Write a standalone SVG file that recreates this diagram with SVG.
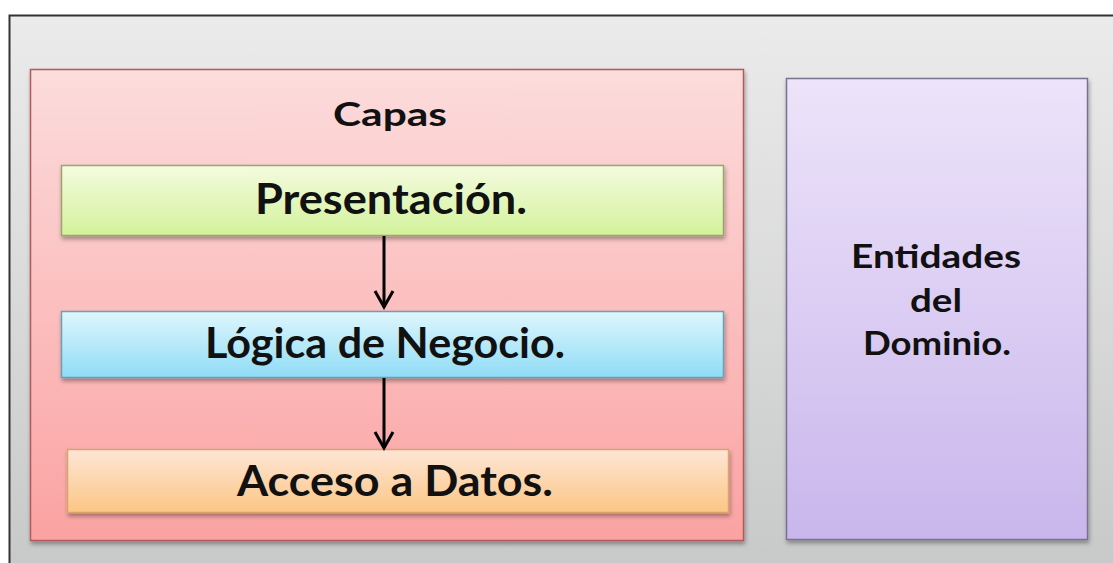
<svg xmlns="http://www.w3.org/2000/svg" width="1113" height="563" viewBox="0 0 1113 563">
<defs>
<linearGradient id="bg" x1="0" y1="0" x2="0" y2="1"><stop offset="0" stop-color="#ebebeb"/><stop offset="1" stop-color="#c7c9c8"/></linearGradient>
<linearGradient id="red" x1="0" y1="0" x2="0" y2="1"><stop offset="0" stop-color="#fcdcdc"/><stop offset="1" stop-color="#fba2a2"/></linearGradient>
<linearGradient id="green" x1="0" y1="0" x2="0" y2="1"><stop offset="0" stop-color="#f4fbe0"/><stop offset="1" stop-color="#d3f29b"/></linearGradient>
<linearGradient id="blue" x1="0" y1="0" x2="0" y2="1"><stop offset="0" stop-color="#dff6fd"/><stop offset="1" stop-color="#8fdcf6"/></linearGradient>
<linearGradient id="orange" x1="0" y1="0" x2="0" y2="1"><stop offset="0" stop-color="#fde6d6"/><stop offset="1" stop-color="#fcc684"/></linearGradient>
<linearGradient id="purple" x1="0" y1="0" x2="0" y2="1"><stop offset="0" stop-color="#ede4fa"/><stop offset="1" stop-color="#c9b6ec"/></linearGradient>
<filter id="sh" x="-5%" y="-5%" width="110%" height="120%"><feDropShadow dx="1" dy="3" stdDeviation="2" flood-color="#000" flood-opacity="0.35"/></filter>
<marker id="ah" viewBox="0 0 22 22" refX="19" refY="11" markerWidth="22" markerHeight="22" markerUnits="userSpaceOnUse" orient="auto"><path d="M3,2 L19,11 L3,20" fill="none" stroke="#000" stroke-width="3"/></marker>
<style>
text{font-family:Lato,"Liberation Sans",sans-serif;font-weight:bold;fill:#111;text-anchor:middle}
.big{font-size:42px}
.sm{font-size:33px}
.conn{stroke:#000;stroke-width:3;fill:none}
</style>
</defs>
<rect x="0" y="0" width="1113" height="563" fill="#fff"/>
<g id="frame"><rect x="9.5" y="15.5" width="1110" height="560" fill="url(#bg)" stroke="#333" stroke-width="2"/></g>
<g id="capas"><rect x="30.5" y="69.5" width="713" height="471" fill="url(#red)" stroke="#b5595a" stroke-width="1.5" filter="url(#sh)"/><text class="sm" x="390" y="126" textLength="114" lengthAdjust="spacingAndGlyphs">Capas</text></g>
<g id="presentacion"><rect x="61.5" y="165.5" width="662" height="70" fill="url(#green)" stroke="#9aa56a" stroke-width="1.5" filter="url(#sh)"/><text class="big" x="391" y="214" textLength="272" lengthAdjust="spacingAndGlyphs">Presentación.</text></g>
<g id="logica"><rect x="61.5" y="311.5" width="662" height="66" fill="url(#blue)" stroke="#6a9fb5" stroke-width="1.5" filter="url(#sh)"/><text class="big" x="385" y="358" textLength="360" lengthAdjust="spacingAndGlyphs">Lógica de Negocio.</text></g>
<g id="acceso"><rect x="67.5" y="449.5" width="661" height="63" fill="url(#orange)" stroke="#d9a46a" stroke-width="1.5" filter="url(#sh)"/><text class="big" x="395" y="496" textLength="316" lengthAdjust="spacingAndGlyphs">Acceso a Datos.</text></g>
<g id="entidades"><rect x="786.5" y="78.5" width="301" height="461" fill="url(#purple)" stroke="#7a7090" stroke-width="1.5" filter="url(#sh)"/><text class="sm" x="936" y="268" textLength="170" lengthAdjust="spacingAndGlyphs">Entidades</text><text class="sm" x="936" y="312" textLength="52" lengthAdjust="spacingAndGlyphs">del</text><text class="sm" x="937" y="355" textLength="148" lengthAdjust="spacingAndGlyphs">Dominio.</text></g>
<g id="connectors">
<line class="conn" x1="384" y1="236" x2="384" y2="307" marker-end="url(#ah)"/>
<line class="conn" x1="384" y1="378" x2="384" y2="448" marker-end="url(#ah)"/>
</g>
</svg>
